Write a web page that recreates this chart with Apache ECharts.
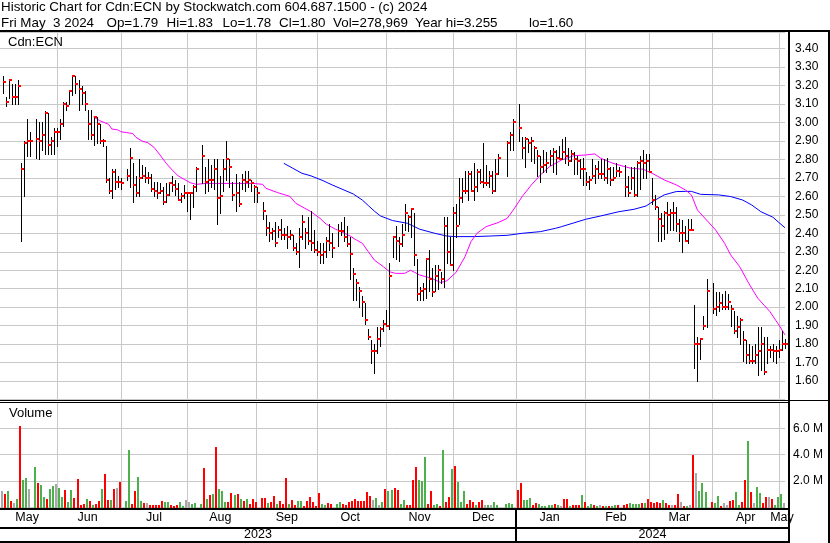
<!DOCTYPE html>
<html><head><meta charset="utf-8">
<script src="https://cdn.jsdelivr.net/npm/echarts@6/dist/echarts.min.js"></script>
<style>html,body{margin:0;padding:0;background:#fff}#c{width:830px;height:543px}</style>
</head><body><div id="c"></div>
<script>
// ---------- DATA ----------
const firstDay = '2023-05-05', lastDay = '2024-05-03';
const titleLine1 = 'Historic Chart for Cdn:ECN by Stockwatch.com 604.687.1500 - (c) 2024';
const titleLine2 = ['Fri May  3 2024', 'Op=1.79', 'Hi=1.83', 'Lo=1.78', 'Cl=1.80', 'Vol=278,969', 'Year hi=3.255', 'lo=1.60'];
const symbolLabel = 'Cdn:ECN';
const monthLabels = ['May','Jun','Jul','Aug','Sep','Oct','Nov','Dec','Jan','Feb','Mar','Apr','May'];
const yearLabels = ['2023','2024'];
const yearStart = '2024-01-01';
const gridDates = ['2023-06-01','2023-06-30','2023-08-01','2023-09-01','2023-09-29','2023-11-01','2023-12-01','2024-01-01','2024-02-01','2024-03-01','2024-04-01','2024-05-01'];

// one entry per weekday from firstDay to lastDay (null = no trading)
const highs = [
 null,3.25,3.14,3.23,3.21,3.21,3.23,2.78,2.90,3.02,
 2.95,null,3.02,3.00,3.00,3.06,3.05,2.92,2.97,2.97,
 3.02,3.11,3.11,3.17,3.255,3.25,3.23,3.20,3.17,3.07,
 3.07,3.03,3.03,2.99,2.91,2.87,2.70,2.75,2.75,2.71,
 2.70,null,2.75,2.86,2.78,2.71,2.80,2.77,2.76,2.73,
 2.72,2.68,2.68,2.67,2.65,2.67,2.67,2.71,2.69,2.67,
 2.62,2.66,2.62,2.62,2.66,2.76,null,2.88,2.76,2.80,
 2.77,2.80,2.80,2.71,2.80,2.90,2.80,2.68,2.72,2.68,
 2.72,2.74,2.74,2.69,2.66,2.65,null,2.57,2.50,2.46,
 2.43,2.46,2.44,2.48,2.43,2.44,2.42,2.39,2.35,2.43,
 2.50,2.43,2.49,2.52,2.42,2.36,2.35,2.35,2.38,2.45,
 2.40,null,2.45,2.46,2.49,2.44,2.38,2.21,2.15,2.11,
 2.06,2.02,1.88,1.82,1.80,1.89,1.89,1.93,1.985,2.24,
 2.38,2.44,2.38,2.45,2.56,2.50,2.535,2.51,2.26,2.11,
 2.13,2.26,2.31,2.21,2.23,2.23,2.19,2.49,2.49,2.38,
 2.54,2.56,2.70,2.70,2.74,2.74,2.74,2.78,2.75,2.75,
 2.89,2.77,2.74,2.74,2.80,2.83,null,null,2.90,2.95,
 3.02,null,3.10,2.92,2.92,2.91,2.92,2.87,2.85,2.82,
 2.85,2.84,2.85,2.86,2.85,2.87,2.91,2.92,2.86,2.85,
 2.84,2.82,2.80,2.81,2.73,2.71,2.80,2.77,2.79,2.80,
 2.80,2.81,2.76,2.76,2.78,2.76,null,2.77,2.71,2.76,
 2.76,2.79,2.82,2.85,2.83,2.83,2.70,2.61,2.54,2.51,
 2.52,2.57,2.53,2.57,2.54,2.48,2.47,2.44,2.48,2.48,
 2.01,1.84,1.83,1.95,2.15,null,2.13,2.08,2.08,2.07,
 2.09,2.07,2.01,1.98,1.95,1.94,1.87,1.82,1.80,1.79,
 1.80,1.89,1.89,1.84,1.84,1.79,1.80,1.79,1.82,1.87,
 1.83];
const lows = [
 null,3.16,3.09,3.13,3.10,3.10,3.10,2.36,2.60,2.82,
 2.82,null,2.81,2.80,2.85,2.83,2.83,2.83,2.83,2.87,
 2.91,2.98,3.07,3.10,3.15,3.16,3.07,3.10,3.07,2.91,
 2.91,2.88,2.89,2.89,2.87,2.68,2.62,2.59,2.64,2.65,
 2.64,null,2.69,2.65,2.57,2.60,2.60,2.70,2.68,2.67,
 2.63,2.60,2.59,2.62,2.56,2.57,2.61,2.63,2.61,2.58,
 2.57,2.59,2.52,2.48,2.54,2.63,null,2.67,2.62,2.63,
 2.65,2.64,2.45,2.51,2.63,2.69,2.65,2.58,2.52,2.55,
 2.64,2.63,2.65,2.63,2.57,2.57,null,2.48,2.39,2.36,
 2.37,2.33,2.38,2.37,2.37,2.32,2.37,2.31,2.29,2.22,
 2.37,2.32,2.34,2.31,2.30,2.28,2.24,2.24,2.27,2.31,
 2.27,null,2.33,2.39,2.36,2.33,2.15,2.04,2.04,2.00,
 1.95,1.91,1.83,1.70,1.645,1.75,1.79,1.87,1.90,1.88,
 2.27,2.26,2.25,2.33,2.42,2.41,2.38,2.23,2.04,2.04,
 2.04,2.05,2.09,2.06,2.09,2.10,2.13,2.11,2.24,2.23,
 2.20,2.38,2.45,2.57,2.62,2.58,2.63,2.58,2.63,2.67,
 2.65,2.66,2.65,2.62,2.63,2.72,null,null,2.71,2.85,
 2.85,null,2.90,2.81,2.76,2.84,2.79,2.78,2.71,2.68,
 2.73,2.73,2.77,2.73,2.72,2.80,2.80,2.78,2.77,2.79,
 2.72,2.72,2.70,2.66,2.66,2.64,2.70,2.67,2.70,2.70,
 2.69,2.67,2.66,2.69,2.71,2.71,null,2.60,2.60,2.64,
 2.60,2.60,2.64,2.70,2.70,2.74,2.56,2.53,2.36,2.36,
 2.37,2.40,2.42,2.42,2.41,2.36,2.30,2.36,2.35,2.42,
 1.67,1.60,1.72,1.88,1.89,null,1.97,1.96,1.98,1.99,
 1.99,1.99,1.90,1.86,1.84,1.80,1.71,1.70,1.70,1.70,
 1.70,1.63,1.66,1.64,1.70,1.73,1.71,1.70,1.73,1.77,
 1.78];
const closes = [
 null,3.22,3.11,3.23,3.14,3.14,3.20,2.75,2.89,2.90,
 2.90,null,2.91,2.90,2.93,3.05,2.88,2.90,2.95,2.95,
 2.99,3.10,3.09,3.17,3.25,3.21,3.18,3.16,3.10,2.99,
 2.93,3.03,2.99,2.90,2.90,2.69,2.63,2.73,2.68,2.68,
 2.67,null,2.71,2.81,2.66,2.62,2.70,2.71,2.70,2.70,
 2.64,2.63,2.62,2.63,2.57,2.61,2.67,2.66,2.64,2.58,
 2.60,2.62,2.62,2.62,2.65,2.75,null,2.82,2.68,2.69,
 2.69,2.75,2.59,2.60,2.75,2.80,2.76,2.61,2.62,2.56,
 2.69,2.68,2.69,2.67,2.65,2.62,null,2.52,2.43,2.40,
 2.41,2.35,2.42,2.39,2.39,2.38,2.39,2.32,2.30,2.38,
 2.46,2.40,2.36,2.35,2.31,2.30,2.28,2.30,2.36,2.35,
 2.32,null,2.41,2.41,2.38,2.34,2.29,2.18,2.13,2.09,
 2.03,1.93,1.84,1.76,1.76,1.83,1.88,1.91,1.90,2.17,
 2.38,2.36,2.34,2.39,2.51,2.49,2.53,2.28,2.07,2.09,
 2.10,2.26,2.15,2.08,2.17,2.20,2.15,2.44,2.30,2.23,
 2.51,2.44,2.59,2.63,2.63,2.72,2.63,2.65,2.73,2.68,
 2.67,2.67,2.71,2.63,2.72,2.81,null,null,2.89,2.93,
 3.00,null,2.97,2.86,2.91,2.89,2.90,2.86,2.82,2.76,
 2.77,2.78,2.82,2.84,2.81,2.80,2.84,2.82,2.79,2.83,
 2.80,2.79,2.75,2.75,2.68,2.69,2.71,2.75,2.72,2.72,
 2.70,2.75,2.69,2.70,2.74,2.73,null,2.65,2.62,2.70,
 2.61,2.78,2.79,2.78,2.79,2.73,2.58,2.54,2.48,2.44,
 2.51,2.50,2.51,2.51,2.45,2.40,2.40,2.36,2.42,2.42,
 1.80,1.80,1.83,1.90,2.09,null,1.99,2.00,2.02,2.00,
 2.00,2.03,1.99,1.87,1.89,1.93,1.82,1.74,1.71,1.71,
 1.74,1.76,1.80,1.65,1.77,1.77,1.76,1.76,1.77,1.80,
 1.80];
// volume in millions of shares
const volumes = [
 null,1.19,0.96,1.19,0.42,0.29,0.58,6.20,2.04,2.22,
 1.35,null,3.06,1.81,1.65,0.76,0.63,1.35,1.60,1.76,
 1.45,0.76,1.27,0.37,1.27,0.68,2.12,0.17,0.24,0.58,
 0.42,0.12,0.24,0.42,1.35,2.50,0.50,0.50,1.35,1.45,
 1.88,null,0.42,4.35,0.22,1.19,2.27,0.42,0.32,0.27,
 0.19,0.19,0.14,0.14,0.42,0.37,0.37,0.12,0.06,0.17,
 0.35,0.06,0.53,0.37,0.24,0.29,null,0.22,2.99,0.58,
 0.88,0.99,4.60,1.35,1.19,0.37,0.37,1.04,0.94,0.96,
 0.63,0.42,0.58,0.24,0.58,0.37,null,0.68,0.68,0.27,
 0.37,0.83,0.24,0.45,0.24,2.22,0.24,0.50,0.12,0.42,
 0.42,0.06,0.42,0.73,0.37,0.06,1.09,0.22,0.12,0.29,
 0.22,null,0.22,0.37,0.22,0.12,0.37,0.47,0.58,0.47,
 0.42,0.42,1.14,0.83,0.53,0.68,0.17,0.37,1.35,1.22,
 1.27,1.45,1.27,0.22,0.50,0.12,0.17,2.04,3.06,2.04,
 1.96,3.81,0.22,1.19,0.17,0.24,0.06,4.35,0.35,0.76,
 2.89,3.14,1.91,0.37,1.19,0.22,0.50,0.37,0.12,0.37,
 0.50,0.12,0.12,0.12,0.37,0.12,null,null,0.22,0.27,
 0.22,null,1.27,1.83,0.50,0.50,0.68,0.12,0.32,0.22,
 0.06,0.04,0.12,0.17,0.22,0.12,0.04,0.63,0.63,0.04,
 0.19,0.17,0.19,0.88,0.37,0.04,0.24,0.12,0.05,0.19,
 0.05,0.04,0.05,0.05,0.17,0.12,null,0.12,0.22,0.27,
 0.22,0.22,0.22,0.32,0.27,0.58,0.37,0.29,0.37,0.29,
 0.50,0.27,0.19,0.19,0.19,0.96,0.35,0.04,0.04,0.19,
 3.96,2.58,1.19,1.81,1.12,null,0.35,0.27,0.81,0.04,
 0.27,0.19,0.42,0.50,1.12,0.19,0.35,2.04,5.04,1.12,
 0.27,1.50,1.04,0.27,0.73,0.73,0.58,0.12,0.73,0.96,
 0.28];
// g = up day, r = down day, n = unchanged, - = no trading
const volumeDirection = (
 '-nrgrngrgg'+'n-grggrggn'+'ggrggrrrrg'+'rgrrgrrgrn'+'r-ggrrggrn'+
 'rrrrrggrrr'+'ggnngg-grg'+'rgrgggrrgr'+'grgrrr-rrg'+'rrgrrrgrrg'+
 'grrrrrrggr'+'r-ggrrrrrr'+'rrrrngngrg'+'grrggrrrrg'+'ggrrggrgrr'+
 'grgggrrrgr'+'rngngg--gg'+'g-rrgggrrg'+'ggggrgnrrg'+'rrrgrggrgn'+
 'rgrggr-rrg'+'gggrgrrrrr'+'grrnrrnrgn'+'rnggg-rggr'+'nnrrggrrgr'+
 'nggrrnrggg'+'n').split('');
// moving averages: [weekday index, price]
const maShort = [[31,3.03],[33,3.01],[36,2.99],[37,2.965],[39,2.96],[40,2.95],[42,2.945],[44,2.94],[45,2.92],[47,2.90],[49,2.89],[51,2.866],[53,2.824],[55,2.78],[57,2.743],[59,2.711],[61,2.692],[63,2.674],[65,2.665],[68,2.67],[71,2.67],[76,2.67],[79,2.67],[84,2.67],[87,2.665],[88,2.644],[92,2.62],[96,2.60],[98,2.562],[101,2.535],[103,2.517],[106,2.481],[108,2.45],[111,2.423],[113,2.409],[116,2.385],[118,2.364],[120,2.346],[122,2.30],[124,2.255],[127,2.219],[129,2.192],[131,2.183],[134,2.183],[136,2.20],[139,2.174],[143,2.156],[146,2.133],[148,2.143],[151,2.187],[154,2.273],[156,2.355],[158,2.40],[161,2.436],[165,2.458],[168,2.481],[170,2.526],[173,2.60],[176,2.662],[179,2.716],[182,2.761],[186,2.797],[190,2.82],[194,2.824],[197,2.83],[199,2.806],[203,2.779],[206,2.765],[209,2.752],[213,2.747],[216,2.725],[220,2.689],[224,2.662],[227,2.635],[229,2.608],[231,2.526],[234,2.472],[237,2.418],[240,2.346],[242,2.283],[245,2.219],[248,2.129],[251,2.048],[255,1.976],[258,1.903],[260,1.85]];
const maLong = [[94,2.779],[97,2.752],[100,2.725],[103,2.711],[107,2.685],[110,2.662],[113,2.641],[117,2.613],[120,2.58],[122,2.55],[124,2.52],[126,2.494],[130,2.469],[135,2.454],[139,2.422],[144,2.40],[148,2.385],[151,2.382],[157,2.382],[162,2.385],[168,2.389],[173,2.40],[179,2.409],[184,2.427],[186,2.436],[194,2.476],[199,2.494],[205,2.517],[210,2.53],[214,2.548],[217,2.58],[220,2.608],[224,2.626],[227,2.627],[229,2.627],[232,2.611],[238,2.608],[242,2.599],[246,2.58],[249,2.553],[252,2.517],[256,2.487],[258,2.458],[260,2.43]];

// ---------- BUILD ----------
function weekdays(a, b) {
  const out = []; const d = new Date(a + 'T00:00:00Z'); const e = new Date(b + 'T00:00:00Z');
  while (d <= e) { const w = d.getUTCDay(); if (w > 0 && w < 6) out.push(d.toISOString().slice(0, 10)); d.setUTCDate(d.getUTCDate() + 1); }
  return out;
}
const days = weekdays(firstDay, lastDay);
const gridSlots = gridDates.map(d => days.indexOf(d));
const gridSet = new Set(gridSlots);
const bounds = [0, ...gridSlots, days.length];
const labelMap = {};
for (let k = 0; k < bounds.length - 1; k++) labelMap[Math.round((bounds[k] + bounds[k + 1] - 1) / 2)] = monthLabels[k];

const ohlcData = [], volData = [];
for (let i = 0; i < days.length; i++) {
  if (highs[i] != null) ohlcData.push([i, highs[i], lows[i], closes[i]]);
  if (volumes[i] != null) volData.push([i, volumes[i], volumeDirection[i]]);
}
const volColors = { g: '#4cb04c', r: '#ff0000', n: '#a8a8a8' };
const FONT = "'Liberation Sans', Arial, sans-serif";
const GRID_C = '#c8c8c8';

const chart = echarts.init(document.getElementById('c'), null, { renderer: 'canvas' });
const xBase = {
  type: 'category', data: days, boundaryGap: false,
  axisLine: { show: false }, axisTick: { show: false },
  splitLine: { show: true, interval: (i) => gridSet.has(i), lineStyle: { color: GRID_C, width: 1 } }
};
chart.setOption({
  animation: false,
  backgroundColor: '#fff',
  grid: [
    { left: 0, width: 785, top: 32, height: 367.5 },
    { left: 0, width: 785, top: 402, height: 105 }
  ],
  xAxis: [
    Object.assign({ gridIndex: 0, axisLabel: { show: false } }, xBase),
    Object.assign({ gridIndex: 1, axisLabel: {
      show: true, interval: (i) => labelMap[i] !== undefined,
      formatter: (v, i) => labelMap[i] || '', margin: 4,
      color: '#000', fontSize: 12.5, fontFamily: FONT } }, xBase)
  ],
  yAxis: [
    { gridIndex: 0, type: 'value', position: 'right', min: 1.5, max: 3.49, interval: 0.1,
      axisLine: { show: false }, axisTick: { show: false },
      axisLabel: { margin: 10, color: '#000', fontSize: 12, fontFamily: FONT, align: 'left',
        formatter: v => (v > 1.595 && v < 3.405) ? v.toFixed(2) : '' },
      splitLine: { show: true, lineStyle: { color: GRID_C, width: 1 } } },
    { gridIndex: 1, type: 'value', position: 'right', min: 0, max: 8, interval: 2,
      axisLine: { show: false }, axisTick: { show: false },
      axisLabel: { margin: 8, color: '#000', fontSize: 12, fontFamily: FONT, align: 'left',
        formatter: v => (v > 0 && v < 8) ? v.toFixed(1) + ' M' : '' },
      splitLine: { show: true, lineStyle: { color: GRID_C, width: 1 } } }
  ],
  series: [
    { type: 'line', xAxisIndex: 0, yAxisIndex: 0, data: maLong.map(p => [days[p[0]], p[1]]),
      showSymbol: false, lineStyle: { color: '#0000ff', width: 1 }, z: 3 },
    { type: 'line', xAxisIndex: 0, yAxisIndex: 0, data: maShort.map(p => [days[p[0]], p[1]]),
      showSymbol: false, lineStyle: { color: '#ff00ff', width: 1 }, z: 3 },
    { type: 'custom', xAxisIndex: 0, yAxisIndex: 0, data: ohlcData, z: 4,
      encode: { x: 0, y: [1, 2, 3] },
      renderItem: (params, api) => {
        const i = api.value(0);
        const h = api.coord([i, api.value(1)]);
        const l = api.coord([i, api.value(2)]);
        const c = api.coord([i, api.value(3)]);
        const r = Math.round(h[0]);
        return { type: 'group', children: [
          { type: 'rect', shape: { x: r, y: Math.round(h[1]), width: 1, height: Math.max(1, Math.round(l[1]) - Math.round(h[1]) + 1) }, style: { fill: '#000' } },
          { type: 'rect', shape: { x: r, y: Math.round(c[1]) - 1, width: 3, height: 2 }, style: { fill: '#ff0000' } }
        ] };
      } },
    { type: 'custom', xAxisIndex: 1, yAxisIndex: 1, data: volData, z: 4,
      encode: { x: 0, y: 1 },
      renderItem: (params, api) => {
        const i = api.value(0);
        const top = api.coord([i, api.value(1)]);
        const base = api.coord([i, 0]);
        const r = Math.round(top[0]);
        const d = volData[params.dataIndex][2];
        return { type: 'rect', shape: { x: r - 2, y: Math.round(top[1]), width: 2, height: Math.max(1, Math.round(base[1]) - Math.round(top[1]) + 2) },
          style: { fill: volColors[d] } };
      } }
  ]
});

// frame and texts
const divX = Math.round(chart.convertToPixel({ xAxisIndex: 1 }, yearStart));
const txt = (x, y, s, size, align) => ({ type: 'text', x, y, silent: true,
  style: { text: s, fill: '#000', fontSize: size, fontFamily: FONT, align: align || 'left', verticalAlign: 'middle' } });
const box = (x, y, w, h) => ({ type: 'rect', silent: true, shape: { x, y, width: w, height: h }, style: { fill: '#000' }, z: 100 });
const line2X = [1, 106.5, 166.5, 222.5, 279, 333, 415, 529];
chart.setOption({
  graphic: [
    txt(1, 7, titleLine1, 13.4),
    ...titleLine2.map((s, k) => txt(line2X[k], 23, s, 13.4)),
    txt(8, 42, symbolLabel, 13),
    txt(9, 413, 'Volume', 13),
    txt(divX / 2, 535, yearLabels[0], 12.5, 'center'),
    txt((divX + 789) / 2, 535, yearLabels[1], 12.5, 'center'),
    box(0, 30, 830, 2),
    box(788, 30, 2, 513),
    box(828, 30, 2, 513),
    box(0, 400, 830, 1),
    box(0, 402, 790, 1),
    box(0, 508, 790, 2),
    box(0, 527, 790, 2),
    box(0, 541, 790, 2),
    box(divX - 1, 508, 2, 35)
  ]
});
</script>
</body></html>
